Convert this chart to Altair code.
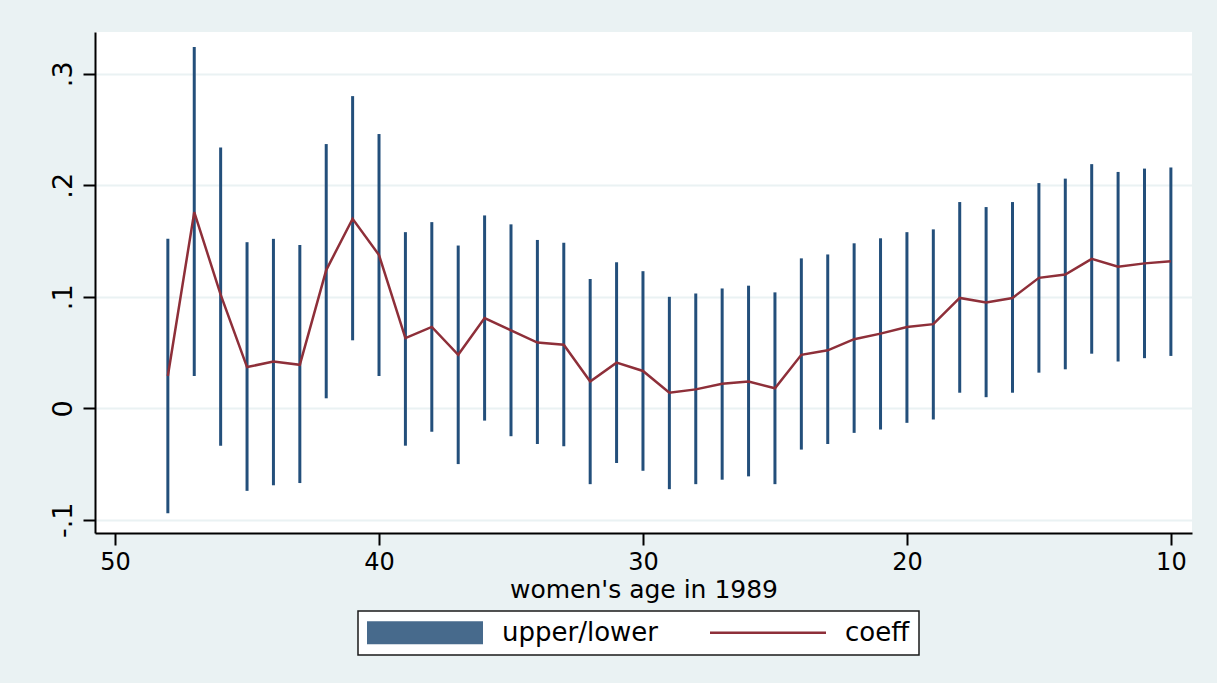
import altair as alt
import pandas as pd

# women's age in 1989
ages = [48, 47, 46, 45, 44, 43, 42, 41, 40, 39, 38, 37, 36, 35, 34, 33, 32, 31, 30,
        29, 28, 27, 26, 25, 24, 23, 22, 21, 20, 19, 18, 17, 16, 15, 14, 13, 12, 11, 10]
upper = [0.152, 0.324, 0.234, 0.149, 0.152, 0.1465, 0.237, 0.280, 0.246, 0.158,
         0.167, 0.146, 0.173, 0.165, 0.151, 0.1485, 0.116, 0.131, 0.123, 0.100,
         0.103, 0.1075, 0.110, 0.104, 0.1345, 0.138, 0.148, 0.1525, 0.158, 0.1605,
         0.185, 0.1805, 0.185, 0.202, 0.206, 0.219, 0.212, 0.215, 0.216]
lower = [-0.094, 0.029, -0.0335, -0.074, -0.069, -0.067, 0.009, 0.061, 0.029, -0.0335,
         -0.021, -0.050, -0.011, -0.025, -0.032, -0.034, -0.068, -0.049, -0.056, -0.0725,
         -0.068, -0.064, -0.061, -0.068, -0.037, -0.032, -0.022, -0.019, -0.013, -0.010,
         0.014, 0.010, 0.014, 0.032, 0.035, 0.049, 0.042, 0.045, 0.047]
coeff = [0.029, 0.176, 0.102, 0.037, 0.042, 0.039, 0.124, 0.170, 0.1375, 0.063,
         0.073, 0.048, 0.081, 0.070, 0.059, 0.057, 0.024, 0.041, 0.0335, 0.014,
         0.017, 0.022, 0.024, 0.018, 0.048, 0.052, 0.062, 0.067, 0.073, 0.0755,
         0.099, 0.095, 0.099, 0.117, 0.120, 0.134, 0.127, 0.130, 0.132]

series_names = ["upper/lower", "coeff"]
x_ticks = [50, 40, 30, 20, 10]
y_ticks = [-0.1, 0.0, 0.1, 0.2, 0.3]

df = pd.DataFrame({"age": ages, "upper": upper, "lower": lower, "coeff": coeff})

FONT = "DejaVu Sans"
BAR_COLOR = "#234F7B"
LINE_COLOR = "#8E2F39"

is_coeff = "datum.value === 'coeff'"

color = alt.Color(
    "series:N",
    scale=alt.Scale(domain=series_names, range=[BAR_COLOR, LINE_COLOR]),
    legend=alt.Legend(
        title=None,
        orient="none",
        legendX=263,
        legendY=579,
        direction="horizontal",
        columns=2,
        labelFont=FONT,
        labelFontSize=26,
        labelColor="black",
        labelOffset=19,
        columnPadding=51,
        symbolSize=13456,
        clipHeight=25,
        padding=9,
        strokeColor="#1a1a1a",
        fillColor="white",
        cornerRadius=0,
        symbolType={"expr": "(" + is_coeff + " ? 'stroke' : 'M-1,-0.2H1V0.2H-1Z')"},
        symbolFillColor={"expr": "(" + is_coeff + " ? 'transparent' : '#476A8C')"},
        symbolStrokeColor={"expr": "(" + is_coeff + " ? '#9E414A' : '#476A8C')"},
        symbolStrokeWidth={"expr": "(" + is_coeff + " ? 2.5 : 0)"},
        symbolOpacity=1,
    ),
)

x = alt.X(
    "age:Q",
    scale=alt.Scale(domain=[50.76, 9.2], nice=False, zero=False),
    axis=alt.Axis(
        values=x_ticks,
        title="women's age in 1989",
        grid=False,
        labelFlush=False,
        labelPadding=5,
        titlePadding=3,
    ),
)

y_scale = alt.Scale(domain=[-0.1118, 0.3375], nice=False, zero=False)
y_axis = alt.Axis(
    values=y_ticks,
    title=None,
    labelAngle=270,
    labelAlign="center",
    labelBaseline="alphabetic",
    labelFontSize=27,
    labelPadding=12,
    labelFlush=False,
    grid=True,
    gridColor="#EAF2F3",
    gridWidth=2,
    labelExpr="datum.value < -1e-9 ? '-.' + round(-datum.value*10) : (abs(datum.value) < 1e-9 ? '0' : '.' + round(datum.value*10))",
)

bars = (
    alt.Chart(df)
    .transform_calculate(series="'upper/lower'")
    .mark_rule(strokeWidth=3)
    .encode(
        x=x,
        y=alt.Y("lower:Q", scale=y_scale, axis=y_axis),
        y2="upper:Q",
        color=color,
    )
)

line = (
    alt.Chart(df)
    .transform_calculate(series="'coeff'")
    .mark_line(strokeWidth=2.5)
    .encode(
        x=x,
        y=alt.Y("coeff:Q", scale=y_scale, axis=y_axis),
        color=color,
    )
)

chart = (
    alt.layer(bars, line)
    .properties(
        width=1097,
        height=501,
        padding={"left": 95, "top": 32, "right": 25, "bottom": 150},
        autosize=alt.AutoSizeParams(type="none"),
        background="#EAF2F3",
    )
    .configure_view(fill="white", strokeWidth=0)
    .configure_axis(
        labelFont=FONT,
        labelFontSize=24,
        labelColor="black",
        titleFont=FONT,
        titleFontSize=25,
        titleFontWeight="normal",
        titleColor="black",
        domainColor="black",
        domainWidth=2,
        tickColor="black",
        tickWidth=2,
        tickSize=12,
    )
    .configure_legend(strokeWidth=1.5)
)

chart.save("out.html", embed_options={"renderer": "svg", "actions": False})
